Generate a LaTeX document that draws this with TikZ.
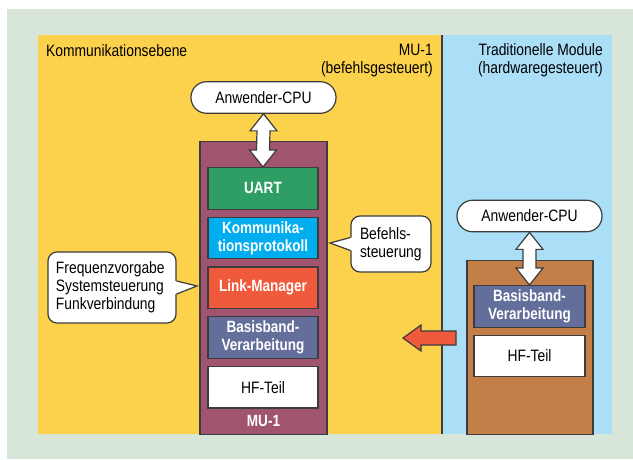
\documentclass[tikz,border=0pt]{standalone}
\usepackage{fontspec}
\setmainfont{Liberation Sans}[FakeStretch=0.84]
\newfontfamily\boxfont{Liberation Sans}[FakeStretch=0.83]
\usetikzlibrary{positioning}

\definecolor{bggreen}{HTML}{D8E6DA}
\definecolor{panelyellow}{HTML}{FCD24C}
\definecolor{panelblue}{HTML}{ABDFF8}
\definecolor{linegray}{HTML}{3C3C3C}
\definecolor{mupurple}{HTML}{A0546F}
\definecolor{uartgreen}{HTML}{2E9E65}
\definecolor{protcyan}{HTML}{00AEEF}
\definecolor{linkred}{HTML}{F05A3C}
\definecolor{baseslate}{HTML}{636E9B}
\definecolor{tradbrown}{HTML}{C47E48}

% vertical double arrow between two anchors
\newcommand\vdblarrow[2]{%
  \draw[outline, fill=white] let \p1=(#1), \p2=(#2) in
    (\x1,\y1) -- (\x1+13.5pt,\y1-17pt) -- (\x1+6.5pt,\y1-17pt)
    -- (\x2+6.5pt,\y2+17pt) -- (\x2+13.5pt,\y2+17pt) -- (\x2,\y2)
    -- (\x2-13.5pt,\y2+17pt) -- (\x2-6.5pt,\y2+17pt)
    -- (\x1-6.5pt,\y1-17pt) -- (\x1-13.5pt,\y1-17pt) -- cycle;}
% pointer of a speech bubble
\newcommand\notetip[3]{%
  \fill[white] ([xshift=#3,yshift=6.5]#1) -- (#2) -- ([xshift=#3,yshift=-6.5]#1) -- cycle;
  \draw[outline] ([yshift=6.5]#1) -- (#2) -- ([yshift=-6.5]#1);}

\usetikzlibrary{calc}

\begin{document}
\begin{tikzpicture}[x=1pt,y=-1pt,
  every node/.style={font=\fontsize{16.5}{18}\selectfont},
  outline/.style={draw=linegray, line width=1.2pt},
  module/.style={outline, inner sep=0},
  layer/.style={outline, minimum width=110, minimum height=41.5, inner sep=0,
    align=center, text=white, font=\boxfont\bfseries\fontsize{16.3}{18}\selectfont},
  plainlayer/.style={layer, fill=white, text=black, font=\fontsize{16.5}{18}\selectfont},
  pill/.style={outline, fill=white, rounded corners=15.5, minimum width=145,
    minimum height=31.5, inner sep=0},
  note/.style={outline, fill=white, rounded corners=9, align=left, inner ysep=0},
  node distance=7pt]
\useasboundingbox (0,0) rectangle (633,459);

% panels
\fill[bggreen] (7,9) rectangle (633,459);
\fill[panelyellow] (38,35) rectangle (442,434);
\fill[panelblue] (442,35) rectangle (612,434);
\draw[linegray, line width=1.5pt] (442,35) -- (442,434);

\node[anchor=base west, inner sep=0] (level) at (46,56) {Kommunikationsebene};
\node[anchor=base east, inner sep=0, align=right] (mutitle) at (433,73) {MU-1\\(befehlsgesteuert)};
\node[anchor=base east, inner sep=0, align=right] (tradtitle) at (603,73) {Traditionelle Module\\(hardwaregesteuert)};

% MU-1 stack
\node[module, fill=mupurple, minimum width=127, minimum height=293, anchor=north] (mu) at (263.5,141) {};
\node[layer, fill=uartgreen, anchor=north] (uart) at (263,167) {UART};
\node[layer, fill=protcyan, below=of uart] (prot) {Kommunika-\\tionsprotokoll};
\node[layer, fill=linkred, below=of prot] (link) {Link-Manager};
\node[layer, fill=baseslate, below=of link] (base) {Basisband-\\Verarbeitung};
\node[plainlayer, below=of base] (hf) {HF-Teil};
\node[text=white, font=\boxfont\bfseries\fontsize{16.3}{18}\selectfont] (mulabel) at (263.5,421) {MU-1};

% traditional module
\node[module, fill=tradbrown, minimum width=126, minimum height=174, anchor=north] (trad) at (530,260) {};
\node[layer, fill=baseslate, minimum width=111, anchor=north] (base2) at (529.5,285) {Basisband-\\Verarbeitung};
\node[plainlayer, minimum width=111, below=of base2] (hf2) {HF-Teil};

% CPUs
\node[pill] (cpu) at (263.5,97.5) {Anwender-CPU};
\node[pill] (cpu2) at (529.5,216) {Anwender-CPU};
\vdblarrow{cpu.south}{uart.north}
\vdblarrow{cpu2.south}{base2.north}

% red arrow
\coordinate (redtail) at (456,338);
\coordinate (redtip) at (403,338);
\draw[outline, fill=linkred] let \p1=(redtail), \p2=(redtip) in
  (\x1,\y1+7pt) -- (\x2+18pt,\y1+7pt) -- (\x2+18pt,\y2+13pt) -- (\x2,\y2)
  -- (\x2+18pt,\y2-13pt) -- (\x2+18pt,\y1-7pt) -- (\x1,\y1-7pt) -- cycle;

% bubbles
\node[note, inner xsep=9, text width=62, minimum height=56] (cmd) at (391,244) {Befehls-\\steuerung};
\coordinate (cmdtip) at (330,243);
\notetip{cmd.west}{cmdtip}{1.5}
\node[note, inner xsep=8, text width=112, minimum height=71] (freq) at (112,287.5) {Frequenzvorgabe\\Systemsteuerung\\Funkverbindung};
\coordinate (freqtip) at (197,286);
\notetip{freq.east}{freqtip}{-1.5}
\end{tikzpicture}
\end{document}
